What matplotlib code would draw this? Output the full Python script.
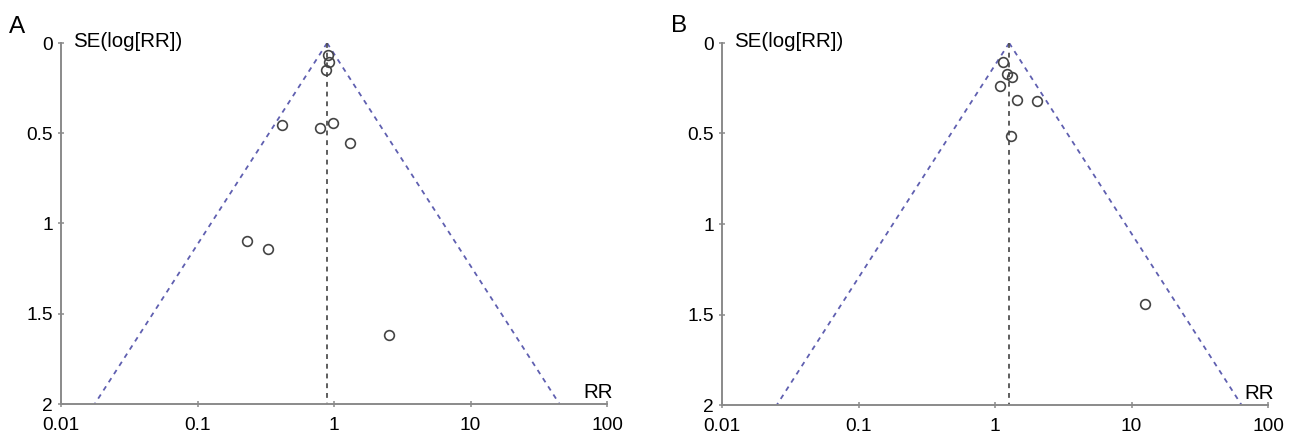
import numpy as np
import matplotlib
matplotlib.use("Agg")
import matplotlib.pyplot as plt

plt.rcParams['font.family'] = ['Liberation Sans', 'DejaVu Sans']
plt.rcParams['lines.scale_dashes'] = False

# Panel A data
rr_a = [0.91, 0.925, 0.875, 0.413, 0.787, 0.986, 1.32, 0.232, 0.327, 2.51]
se_a = [0.066, 0.103, 0.147, 0.452, 0.470, 0.444, 0.553, 1.095, 1.140, 1.618]
pooled_a = 0.89

# Panel B data
rr_b = [1.135, 1.217, 1.34, 1.088, 1.44, 2.04, 1.315, 12.65]
se_b = [0.105, 0.169, 0.186, 0.235, 0.316, 0.320, 0.515, 1.443]
pooled_b = 1.27

panel_labels = ["A", "B"]
x_ticks = [0.01, 0.1, 1, 10, 100]
x_ticklabels = ["0.01", "0.1", "1", "10", "100"]
y_ticks = [0, 0.5, 1, 1.5, 2]
y_ticklabels = ["0", "0.5", "1", "1.5", "2"]
se_max = 2.0

W, H = 1297, 436
fig = plt.figure(figsize=(W / 100, H / 100), dpi=100)

axes_px = [(61, 43, 546, 361), (722, 43, 546, 362)]
label_px = [(9, 33), (671, 32)]

tri_color = '#5f5fb0'
axis_color = '#8a8a8a'
dash = (0, (3.5, 3.5))

for i, (rr, se, pooled) in enumerate([(rr_a, se_a, pooled_a), (rr_b, se_b, pooled_b)]):
    x0, y0, w, h = axes_px[i]
    ax = fig.add_axes([x0 / W, 1 - (y0 + h) / H, w / W, h / H])
    ax.set_xscale('log')
    ax.set_xlim(0.01, 100)
    ax.set_ylim(se_max, 0)

    # funnel
    se_line = np.array([0.0, se_max])
    ax.plot(pooled * np.exp(-1.96 * se_line), se_line, color=tri_color,
            lw=1.3, ls=dash, zorder=2)
    ax.plot(pooled * np.exp(1.96 * se_line), se_line, color=tri_color,
            lw=1.3, ls=dash, zorder=2)
    ax.plot([pooled, pooled], [0, se_max], color='#505050', lw=1.3,
            ls=dash, zorder=2)

    ax.plot(rr, se, ls='none', marker='o', ms=7, mfc='none', mec='#444444',
            mew=1.2, zorder=3)

    for s in ['top', 'right']:
        ax.spines[s].set_visible(False)
    for s in ['left', 'bottom']:
        ax.spines[s].set_color(axis_color)
        ax.spines[s].set_linewidth(1.4)

    ax.set_xticks(x_ticks)
    ax.set_xticklabels(x_ticklabels)
    ax.xaxis.set_minor_locator(matplotlib.ticker.NullLocator())
    ax.set_yticks(y_ticks)
    ax.set_yticklabels(y_ticklabels)
    ax.tick_params(axis='both', direction='inout', length=5, width=1.1,
                   color=axis_color, labelsize=13.8, labelcolor='black')
    ax.tick_params(axis='x', pad=6.5)
    ax.tick_params(axis='y', pad=3.5)
    ax.set_facecolor('none')

    ax.text(12 / w, 1 - 4 / h, "SE(log[RR])", transform=ax.transAxes,
            ha='left', va='baseline', fontsize=14.8, clip_on=False)
    ax.text(1 + 6 / w, 6 / h, "RR", transform=ax.transAxes,
            ha='right', va='baseline', fontsize=14.8, clip_on=False)

    lx, ly = label_px[i]
    fig.text(lx / W, 1 - ly / H, panel_labels[i], ha='left', va='baseline',
             fontsize=17.5)

fig.savefig("out.png", dpi=100)
